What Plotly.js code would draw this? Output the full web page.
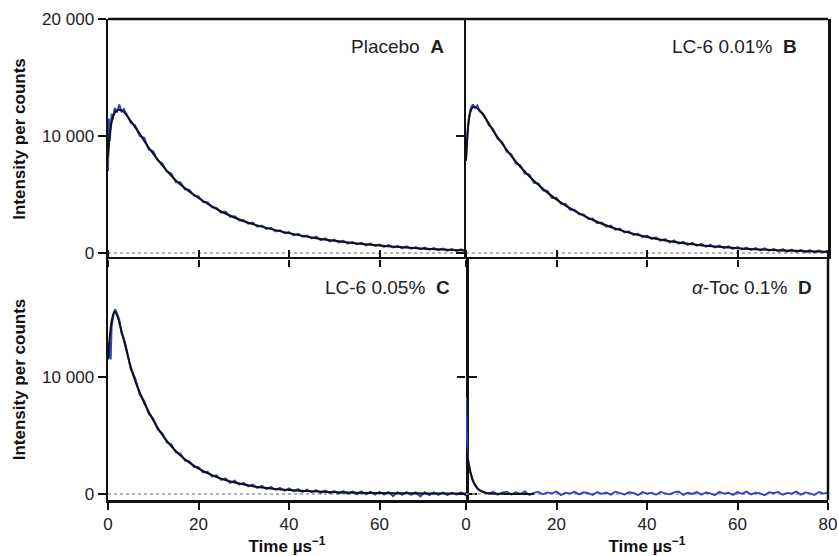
<!DOCTYPE html>
<html>
<head>
<meta charset="utf-8">
<script src="https://cdn.plot.ly/plotly-3.0.1.min.js"></script>
<style>html,body{margin:0;padding:0;background:#fff;}#chart{width:838px;height:556px;}</style>
</head>
<body>
<div id="chart"></div>
<script>
// ---------- data ----------
var panelLabels = ['Placebo', 'LC-6 0.01%', 'LC-6 0.05%', '<i>α</i>-Toc 0.1%'];
var panelLetters = ['A', 'B', 'C', 'D'];
var xTickVals = [0, 20, 40, 60, 80];
var xTickText = ['0', '20', '40', '60', '80'];
var yTickValsTop = [0, 10000, 20000];
var yTickTextTop = ['0', '10 000', '20 000'];
var yTickValsBottom = [0, 10000];
var yTickTextBottom = ['0', '10 000'];
var xTitle = 'Time µs<sup>−1</sup>';
var yTitle = 'Intensity per counts';

// shared sampling times of measured (blue) traces after the first few µs
var timeGrid = [4,5,6,7,8,9,10,11,12,13,14,15,16,17,18,19,20,21,22,23,24,25,26,27,28,29,30,31,32,33,34,35,36,37,38,39,40,41,42,43,44,45,46,47,48,49,50,51,52,53,54,55,56,57,58,59,60,61,62,63,64,65,66,67,68,69,70,71,72,73,74,75,76,77,78,79,80];

// Panel A – Placebo
var earlyTimeA = [0,0.2,0.4,0.6,0.8,1,1.5,2,2.5,3,3.5];
var earlyDataA = [7000,11500,9600,11200,11900,11400,12400,12000,12700,12100,12300];
var gridDataA = [11950,11150,10900,10000,9850,8850,8700,7900,7650,6950,6800,6050,6050,5450,5400,4900,4850,4350,4350,3900,3850,3450,3550,3100,3150,2800,2800,2500,2600,2250,2350,2050,2150,1850,1950,1700,1800,1500,1650,1400,1500,1250,1400,1100,1250,1000,1150,900,1050,800,950,750,880,650,820,600,730,520,690,470,610,410,570,360,510,320,470,280,420,240,390,200,350,180,320,150,280];
var fitTimeA = [0,0.5,1,1.5,2,2.6,3.5,5,7,9,12,15,20,25,30,35,40,45,50,55,60,65,70,75,79];
var fitDataA = [8200,10500,11500,12000,12200,12250,12050,11300,10200,9000,7500,6200,4700,3550,2720,2150,1700,1330,1040,820,640,490,370,270,210];

// Panel B – LC-6 0.01%
var earlyTimeB = [0,0.2,0.4,0.6,0.8,1,1.5,2,2.5,3,3.5];
var earlyDataB = [7900,9800,10600,11400,11800,12300,12700,12400,12600,12100,12000];
var gridDataB = [11800,10950,10600,9750,9500,8650,8450,7650,7500,6800,6700,6000,5950,5350,5300,4700,4700,4200,4200,3700,3700,3300,3300,2900,2950,2550,2600,2250,2350,2000,2100,1750,1850,1550,1650,1350,1500,1200,1350,1050,1200,900,1080,800,950,700,870,620,780,540,700,470,640,420,580,360,520,300,470,260,430,220,400,190,360,150,330,120,300,100,270,80,250,60,230,40,200];
var fitTimeB = [0,0.3,0.6,1,1.6,2.2,3,4,5,6,8,10,12,15,18,21,25,30,35,40,45,50,55,60,65,70,75,80];
var fitDataB = [7900,10000,11300,12100,12500,12450,12200,11700,11100,10450,9350,8300,7370,6170,5160,4310,3390,2500,1850,1370,1010,745,550,405,300,220,160,115];

// Panel C – LC-6 0.05%
var earlyTimeC = [0,0.2,0.4,0.6,0.8,1,1.3,1.6,2,2.5,3,3.5];
var earlyDataC = [12500,11600,13000,11500,14300,15000,15500,15800,15400,14900,13700,13300];
var gridDataC = [12600,10700,9900,8500,7950,6850,6450,5500,5200,4400,4250,3550,3450,2850,2800,2300,2300,1850,1900,1500,1600,1200,1350,950,1150,800,950,650,800,520,700,420,620,350,540,280,480,250,420,180,380,150,340,100,300,80,260,40,250,20,230,-20,220,-30,200,-50,190,-60,180,-180,160,-70,170,-80,150,-200,150,-90,140,-80,150,-100,130,-60,140,-90,120];
var fitTimeC = [0,0.4,0.8,1.2,1.5,2,3,4,5,6,7,8,10,12,14,16,18,20,24,28,32,36,40,45,50,55,60,65,70,75,80];
var fitDataC = [11500,13500,14800,15400,15600,15300,13900,12400,10900,9700,8700,7800,6300,5050,4080,3300,2680,2180,1450,980,670,470,340,230,160,115,85,65,50,40,35];

// Panel D – alpha-Toc 0.1%
var earlyTimeD = [0,0.15,0.3,0.5,0.75,1,1.5,2,2.5,3,3.5];
var earlyDataD = [8300,5200,3600,2900,2200,1800,1100,750,450,320,200];
var gridDataD = [150,30,180,-60,120,200,-40,160,20,230,-80,100,180,-20,140,60,210,-90,120,40,190,-30,150,80,-70,170,20,130,-50,200,60,-40,150,90,-100,160,30,120,-60,180,50,-30,140,220,-80,100,10,170,-50,130,60,-90,190,40,110,-70,160,20,210,-40,120,50,-100,150,70,180,-60,100,30,200,-50,140,60,-80,170,40,120];
var fitTimeD = [0,0.5,1,1.5,2,2.5,3,4,5,6,8,10,15];
var fitDataD = [4000,2700,1850,1200,800,520,330,140,60,30,15,10,10];

// ---------- build figure ----------
var BLUE = '#2e42c2';
var FONT = '"Liberation Sans", Arial, Helvetica, sans-serif';

var panels = [
  {et: earlyTimeA, ed: earlyDataA, gd: gridDataA, ft: fitTimeA, fd: fitDataA, xa: 'x',  ya: 'y'},
  {et: earlyTimeB, ed: earlyDataB, gd: gridDataB, ft: fitTimeB, fd: fitDataB, xa: 'x2', ya: 'y2'},
  {et: earlyTimeC, ed: earlyDataC, gd: gridDataC, ft: fitTimeC, fd: fitDataC, xa: 'x3', ya: 'y3'},
  {et: earlyTimeD, ed: earlyDataD, gd: gridDataD, ft: fitTimeD, fd: fitDataD, xa: 'x4', ya: 'y4'}
];

var traces = [];
panels.forEach(function (p) {
  traces.push({
    type: 'scatter', mode: 'lines', xaxis: p.xa, yaxis: p.ya,
    x: p.et.concat(timeGrid), y: p.ed.concat(p.gd),
    line: {color: BLUE, width: 1.9}, hoverinfo: 'skip'
  });
  traces.push({
    type: 'scatter', mode: 'lines', xaxis: p.xa, yaxis: p.ya,
    x: p.ft, y: p.fd,
    line: {color: '#111', width: 2, shape: 'spline', smoothing: 0.8}, hoverinfo: 'skip'
  });
});

var W = 838, H = 556;
var xL = [108 / W, 466 / W], xR = [466 / W, 828 / W];
var yT = [1 - 259 / H, 1 - 19 / H], yB = [1 - 500 / H, 1 - 259 / H];

function xax(domain, range, labels, anchor, mirror, showline, title) {
  var a = {
    domain: domain, range: range, anchor: anchor,
    showline: showline, linecolor: '#111', linewidth: 2.5, mirror: mirror,
    ticks: 'outside', ticklen: 7, tickwidth: 2, tickcolor: '#111',
    tickvals: xTickVals, ticktext: xTickText, showticklabels: labels,
    tickfont: {family: FONT, size: 17, color: '#222'},
    showgrid: false, zeroline: false, fixedrange: true
  };
  if (title) a.title = {text: title, font: {family: FONT, size: 17, color: '#111', weight: 'bold'}, standoff: 5};
  return a;
}
function yax(domain, range, vals, text, labels, anchor, mirror, showline, title) {
  var a = {
    domain: domain, range: range, anchor: anchor,
    showline: showline, linecolor: '#111', linewidth: 2.5, mirror: mirror,
    ticks: 'outside', ticklen: 8, tickwidth: 2, tickcolor: '#111',
    tickvals: vals, ticktext: text, showticklabels: labels,
    tickfont: {family: FONT, size: 17, color: '#222'},
    showgrid: false, zeroline: false, fixedrange: true
  };
  if (title) a.title = {text: title, font: {family: FONT, size: 17, color: '#111', weight: 'bold'}, standoff: 12};
  return a;
}

var shapes = [['x', 'y', 79.1], ['x2', 'y2', 80], ['x3', 'y3', 79.1], ['x4', 'y4', 80]].map(function (s) {
  return {type: 'line', xref: s[0], yref: s[1], x0: 0, x1: s[2], y0: 0, y1: 0,
          layer: 'below', line: {color: '#9a9a9a', width: 1.5, dash: 'dot'}};
});

var annX = [446 / W, 799 / W, 452 / W, 814 / W];
var annY = [1 - 46 / H, 1 - 46 / H, 1 - 287 / H, 1 - 287 / H];
var annotations = panelLabels.map(function (lab, i) {
  return {
    xref: 'paper', yref: 'paper', x: annX[i], y: annY[i], xanchor: 'right', yanchor: 'middle',
    text: lab + '\u00a0\u00a0<b>' + panelLetters[i] + '</b>', showarrow: false,
    font: {family: FONT, size: 19, color: '#222'}
  };
});

var layout = {
  width: W, height: H,
  margin: {l: 0, r: 0, t: 0, b: 0},
  paper_bgcolor: '#fff', plot_bgcolor: 'rgba(0,0,0,0)',
  showlegend: false,
  // top panels: x-axis line drawn by the bottom panels' mirrored line; ticks still drawn downward
  xaxis:  xax(xL, [0, 79.1], false, 'y', false, false),
  xaxis2: xax(xR, [0, 80], false, 'y2', false, false),
  xaxis3: xax(xL, [0, 79.1], true, 'y3', 'ticks', true, xTitle),
  xaxis4: xax(xR, [0, 80], true, 'y4', 'ticks', true, xTitle),
  yaxis:  yax(yT, [-510, 20000], yTickValsTop, yTickTextTop, true, 'x', false, true, yTitle),
  yaxis2: yax(yT, [-510, 20000], yTickValsTop, yTickTextTop, false, 'x2', true, true),
  yaxis3: yax(yB, [-510, 20090], yTickValsBottom, yTickTextBottom, true, 'x3', 'ticks', true, yTitle),
  yaxis4: yax(yB, [-510, 20090], yTickValsBottom, yTickTextBottom, false, 'x4', false, false),
  shapes: shapes,
  annotations: annotations
};

// top border of the upper panels and right border of the lower-right panel
layout.xaxis.mirror = false;
layout.shapes.push({type: 'line', xref: 'paper', yref: 'paper', x0: 108 / W, x1: 828 / W, y0: 1 - 19 / H, y1: 1 - 19 / H, line: {color: '#111', width: 2.5}});
layout.shapes.push({type: 'line', xref: 'paper', yref: 'paper', x0: 828 / W, x1: 828 / W, y0: 1 - 500 / H, y1: 1 - 259 / H, line: {color: '#111', width: 2.5}});

Plotly.newPlot('chart', traces, layout, {staticPlot: true, displayModeBar: false});
</script>
</body>
</html>
